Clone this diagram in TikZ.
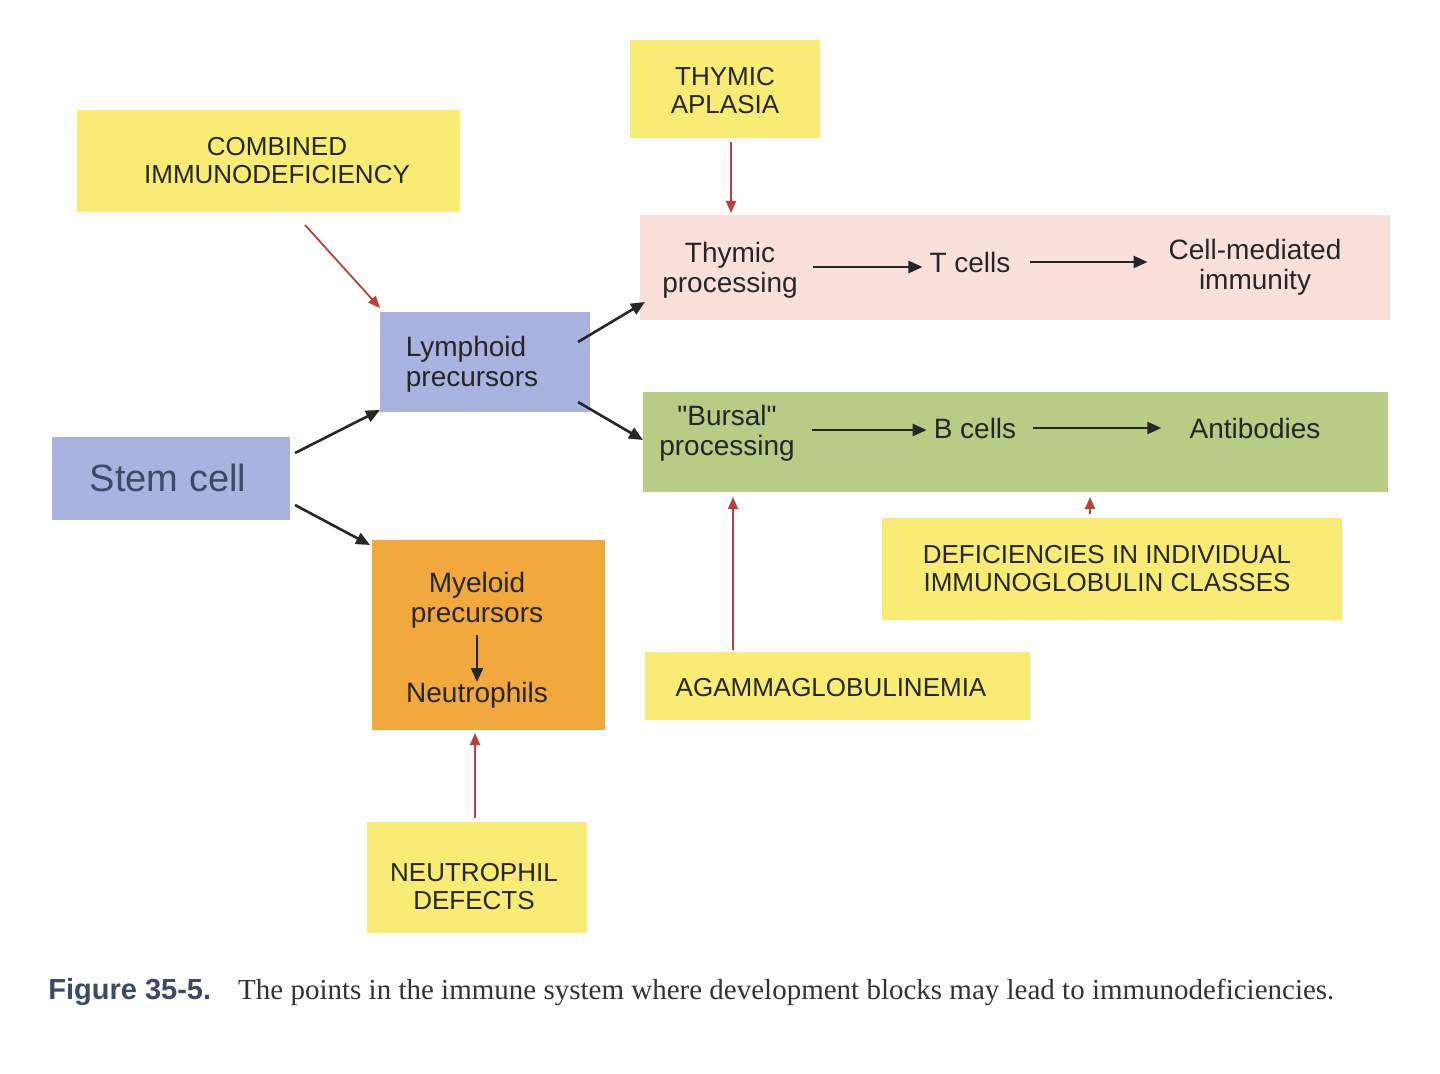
\documentclass[tikz,border=0pt]{standalone}
\usepackage{fontspec}
\setmainfont{Liberation Serif}
\newfontfamily\sansf{Liberation Sans}
\usetikzlibrary{arrows.meta}
\definecolor{yel}{HTML}{F8EC74}
\definecolor{pinkb}{HTML}{F9E1D9}
\definecolor{blueb}{HTML}{A9B3DF}
\definecolor{greenb}{HTML}{B7CC85}
\definecolor{orab}{HTML}{F1A93E}
\definecolor{redar}{HTML}{B5433B}
\definecolor{capblue}{HTML}{3C4A66}
\begin{document}
\begin{tikzpicture}[x=0.5pt,y=-0.5pt,
  box/.style={draw=none,inner sep=0},
  lab/.style={font=\sansf\fontsize{13}{14}\selectfont,align=center,text=black!85},
  blab/.style={font=\sansf\fontsize{14}{15}\selectfont,align=center,text=black!85},
  ba/.style={-{Triangle[length=7pt,width=6pt]},line width=1.3pt,black!85},
  ra/.style={-{Triangle[length=6pt,width=5pt]},line width=0.9pt,redar}]
\useasboundingbox[fill=white] (0,0) rectangle (1440,1074);
% boxes
\fill[yel] (77,110) rectangle (460,212);
\fill[yel] (630,40) rectangle (820,138);
\fill[pinkb] (640,215) rectangle (1390,320);
\fill[blueb] (380,312) rectangle (590,412);
\fill[blueb] (52,437) rectangle (290,520);
\fill[greenb] (643,392) rectangle (1388,492);
\fill[orab] (372,540) rectangle (605,730);
\fill[yel] (882,518) rectangle (1342,620);
\fill[yel] (645,652) rectangle (1030,720);
\fill[yel] (367,822) rectangle (587,933);
% labels
\node[lab] (comb) at (277,161) {COMBINED\\IMMUNODEFICIENCY};
\node[lab] (thya) at (725,91) {THYMIC\\APLASIA};
\node[lab] (defi) at (1107,569) {DEFICIENCIES IN INDIVIDUAL\\IMMUNOGLOBULIN CLASSES};
\node[lab] (agam) at (831,688) {AGAMMAGLOBULINEMIA};
\node[lab] (neud) at (474,887) {NEUTROPHIL\\DEFECTS};
\node[blab,align=left] (lymph) at (472,364) {Lymphoid\\precursors};
\node[font=\sansf\fontsize{19}{20}\selectfont,text=capblue] (stem) at (168,478) {Stem cell};
\node[blab] (myel) at (477,600) {Myeloid\\precursors};
\node[blab] (neut) at (477,695) {Neutrophils};
\node[blab] (thp) at (730,270) {Thymic\\processing};
\node[blab] (tc) at (970,262) {T cells};
\node[blab] (cmi) at (1255,267) {Cell-mediated\\immunity};
\node[blab] (bp) at (727,433) {"Bursal"\\processing};
\node[blab] (bc) at (975,428) {B cells};
\node[blab] (ab) at (1255,428) {Antibodies};
% coordinates
\coordinate (s1) at (295,453); \coordinate (l1) at (380,410);
\coordinate (s2) at (295,505); \coordinate (m1) at (370,545);
\coordinate (l2) at (578,342); \coordinate (p1) at (645,302);
\coordinate (l3) at (578,402); \coordinate (g1) at (643,440);
\coordinate (c1) at (305,225); \coordinate (c2) at (380,308);
\coordinate (t1) at (731,142); \coordinate (t2) at (731,213);
\coordinate (a1) at (733,650); \coordinate (a2) at (733,497);
\coordinate (d1) at (1090,514); \coordinate (d2) at (1090,497);
\coordinate (n1) at (475,818); \coordinate (n2) at (475,733);
\coordinate (m2) at (477,635); \coordinate (m3) at (477,682);
% black arrows
\draw[ba] (s1) -- (l1);
\draw[ba] (s2) -- (m1);
\draw[ba] (l2) -- (p1);
\draw[ba] (l3) -- (g1);
\draw[ba] (thp.east|-tc) ++(8,5) coordinate (x1) -- (tc.west|-x1);
\draw[ba] (tc.east) ++(12,0) coordinate (x2) -- ++(118,0) coordinate (x3);
\draw[ba] (bp.east|-bc) ++(10,2) coordinate (y1) -- (bc.west|-y1);
\draw[ba] (bc.east) ++(10,0) coordinate (y2) -- ++(128,0);
\draw[ba] (m2) -- (m3);
% red arrows
\draw[ra] (c1) -- (c2);
\draw[ra] (t1) -- (t2);
\draw[ra] (a1) -- (a2);
\draw[ra] (d1) -- (d2);
\draw[ra] (n1) -- (n2);
% caption
\node[anchor=north west,text width=671pt,align=justify,inner sep=0,
  font=\fontsize{14.5}{21}\selectfont,text=black!80] (cap) at (48,978)
  {{\sansf\bfseries\color{capblue}Figure 35-5.}\hspace{0.6em} The points in the immune system where development blocks may lead to immunodeficiencies.};
\end{tikzpicture}
\end{document}
